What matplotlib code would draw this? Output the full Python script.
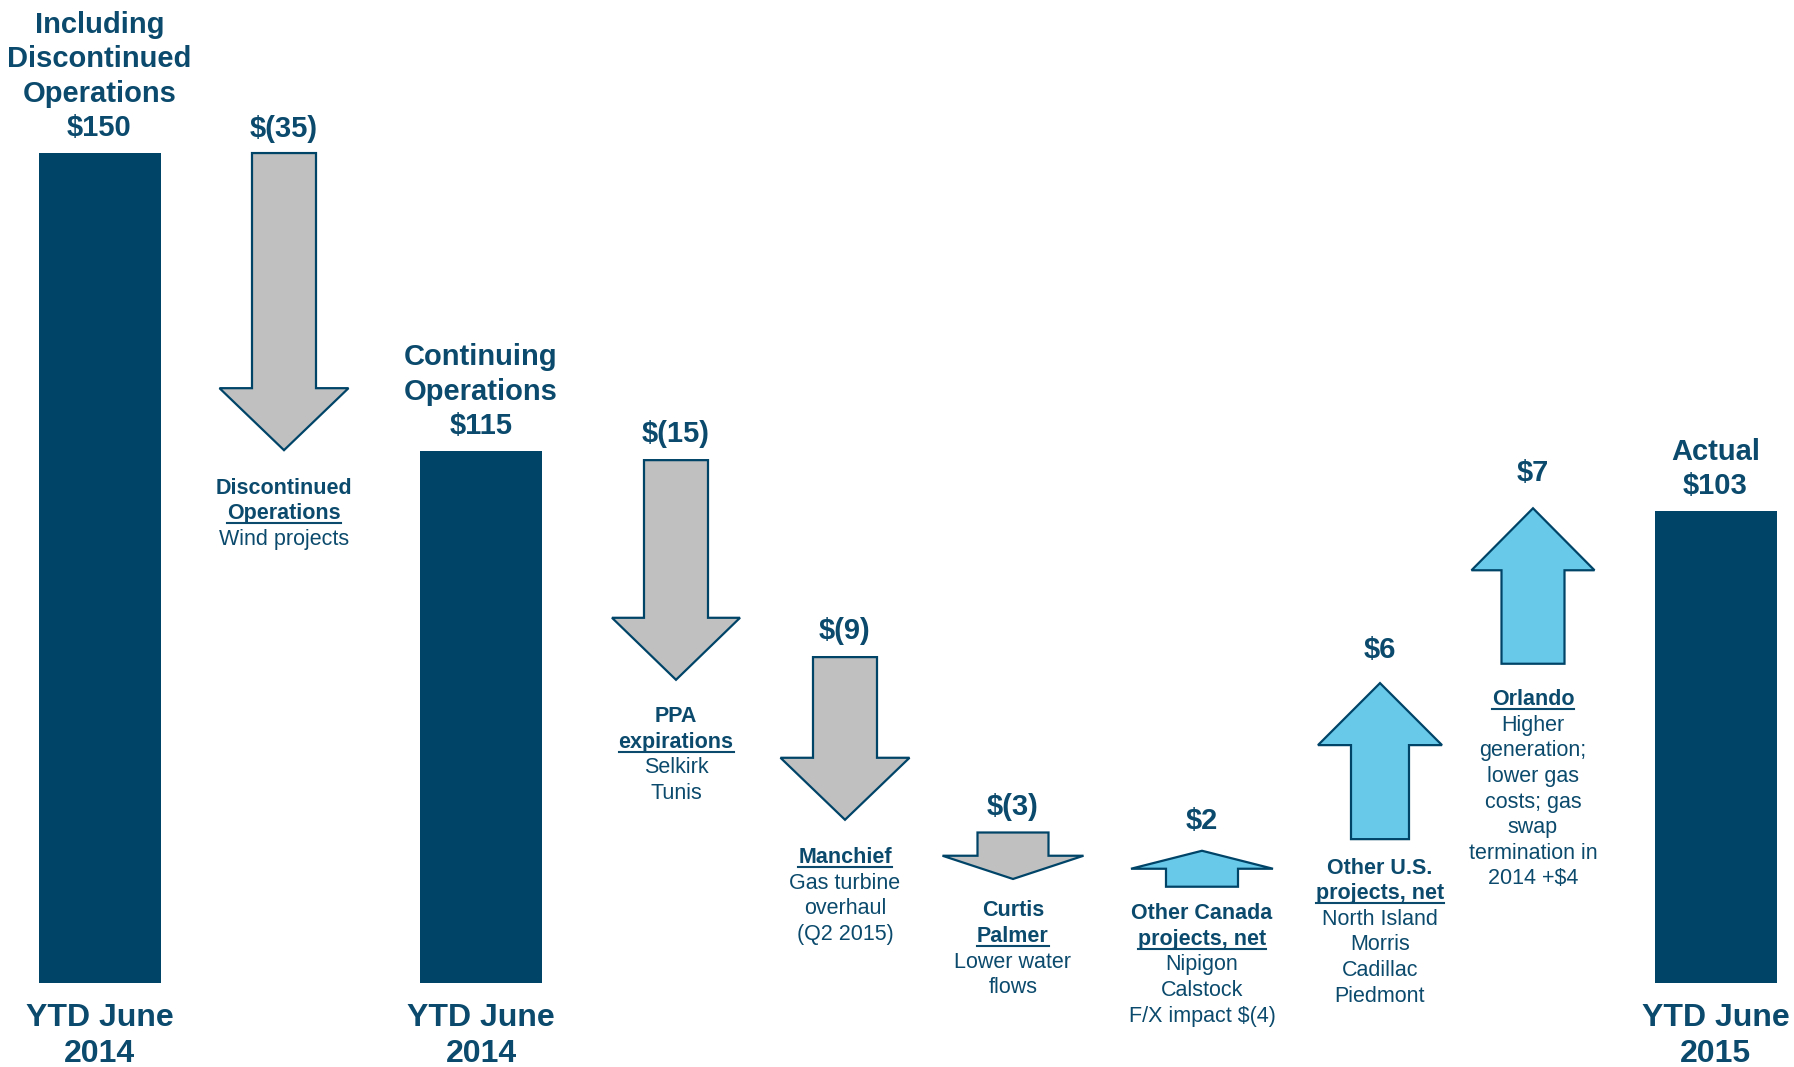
import matplotlib.pyplot as plt
from matplotlib.patches import Polygon
from matplotlib.lines import Line2D
from matplotlib.transforms import IdentityTransform

plt.rcParams['font.family'] = ['Liberation Sans', 'DejaVu Sans']

NAVY = '#004468'
TEXT = '#0B4A6C'
GREY = '#C0C0C0'
SKY = '#69C9E9'

# totals (bars)
bar_values = [150, 115, 103]
bar_heads = [['Including', 'Discontinued', 'Operations', '$150'],
             ['Continuing', 'Operations', '$115'],
             ['Actual', '$103']]
bar_feet = [['YTD June', '2014'], ['YTD June', '2014'], ['YTD June', '2015']]
# heights as drawn on the slide (the slide is not to scale)
bar_drawn = [150, 96.1, 85.3]

# changes (arrows)
step_values = [-35, -15, -9, -3, 2, 6, 7]
step_labels = ['$(35)', '$(15)', '$(9)', '$(3)', '$2', '$6', '$7']
step_start = [150, 94.5, 58.9, 27.2, 17.4, 26.0, 57.7]
step_end = [96.3, 54.8, 29.5, 18.8, 23.9, 54.2, 85.8]
# 'b' bold, 'u' bold + underline, '' plain
step_notes = [
    [('Discontinued', 'b'), ('Operations', 'u'), ('Wind projects', '')],
    [('PPA', 'b'), ('expirations', 'u'), ('Selkirk', ''), ('Tunis', '')],
    [('Manchief', 'u'), ('Gas turbine', ''), ('overhaul', ''), ('(Q2 2015)', '')],
    [('Curtis', 'b'), ('Palmer', 'u'), ('Lower water', ''), ('flows', '')],
    [('Other Canada', 'b'), ('projects, net', 'u'), ('Nipigon', ''),
     ('Calstock', ''), ('F/X impact $(4)', '')],
    [('Other U.S.', 'b'), ('projects, net', 'u'), ('North Island', ''),
     ('Morris', ''), ('Cadillac', ''), ('Piedmont', '')],
    [('Orlando', 'u'), ('Higher', ''), ('generation;', ''), ('lower gas', ''),
     ('costs; gas', ''), ('swap', ''), ('termination in', ''), ('2014 +$4', '')],
]

# layout (pixels)
W, H = 1794, 1067
BASE = 983
UNIT = 5.533  # px per drawn unit
DROP = 3
bar_x = [99.5, 481, 1715.5]
bar_w = 122
step_x = [284, 676, 845, 1013, 1202, 1380, 1533]
shaft_w = [64, 64, 64, 71, 72, 58, 63]
head_w = [129, 128, 129, 141, 142, 124, 123]
label_gap = [27, 29, 29, 29, 33, 36, 38]
note_gap = [35, 34, 35, 29, 24, 26, 33]

fig = plt.figure(figsize=(W / 100, H / 100), dpi=100)
ax = fig.add_axes([0, 0, 1, 1])
ax.set_xlim(0, W)
ax.set_ylim(-(H - BASE) / UNIT, BASE / UNIT)
ax.axis('off')

ax.bar(bar_x, bar_drawn, width=bar_w, color=NAVY, linewidth=0)

underlined = []


def put(txt, x, y, dy, size, style):
    weight = 'bold' if style in ('b', 'u') else 'normal'
    t = ax.annotate(txt, (x, y), xytext=(0, dy - DROP),
                    textcoords='offset pixels',
                    ha='center', va='center', fontsize=size,
                    fontweight=weight, color=TEXT)
    if style == 'u':
        underlined.append(t)
    return t


for x, top, head, feet in zip(bar_x, bar_drawn, bar_heads, bar_feet):
    n = len(head)
    for i, line in enumerate(head):
        put(line, x, top, 28 + (n - 1 - i) * 34.5, 21, 'b')
    for i, line in enumerate(feet):
        put(line, x, 0, -32 - i * 36, 23, 'b')

for i, (x, y0, y1) in enumerate(zip(step_x, step_start, step_end)):
    up = y1 > y0
    length = abs(y1 - y0)
    hl = min(62 / UNIT, 0.5 * length)
    s = 1 if up else -1
    neck = y1 - s * hl
    sw, hw = shaft_w[i] / 2, head_w[i] / 2
    pts = [(x - sw, y0), (x - sw, neck), (x - hw, neck), (x, y1),
           (x + hw, neck), (x + sw, neck), (x + sw, y0)]
    ax.add_patch(Polygon(pts, closed=True, facecolor=SKY if up else GREY,
                         edgecolor=NAVY, linewidth=1.6, joinstyle='miter'))
    put(step_labels[i], x, max(y0, y1), label_gap[i], 21, 'b')
    for j, (line, st) in enumerate(step_notes[i]):
        put(line, x, min(y0, y1), -note_gap[i] - j * 25.6, 15.5, st)

fig.canvas.draw()
for t in underlined:
    bb = t.get_window_extent()
    fig.add_artist(Line2D([bb.x0, bb.x1], [bb.y0 + 1, bb.y0 + 1],
                          transform=IdentityTransform(), color=TEXT, lw=1.5))

fig.savefig('out.png', dpi=100)
